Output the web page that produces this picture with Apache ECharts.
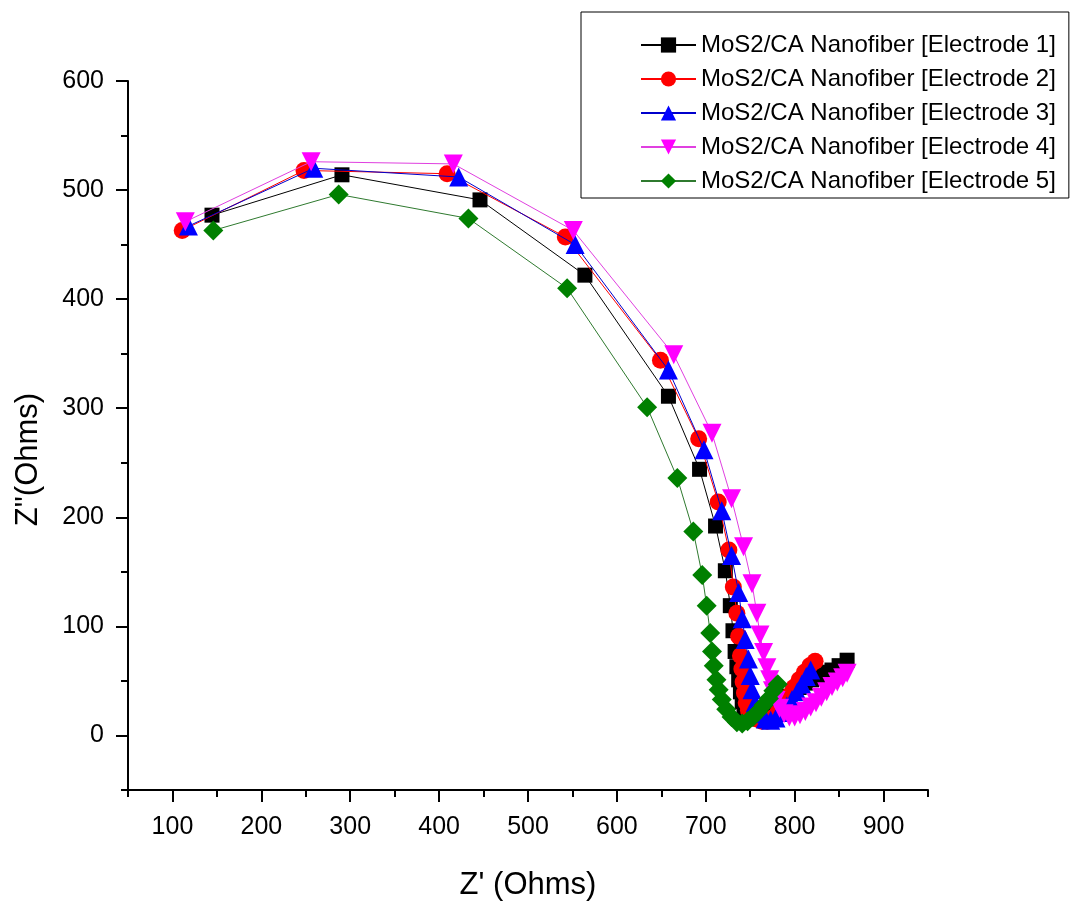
<!DOCTYPE html>
<html>
<head>
<meta charset="utf-8">
<script src="https://cdn.jsdelivr.net/npm/echarts@6/dist/echarts.min.js"></script>
<style>
html,body{margin:0;padding:0;background:#fff;}
#chart{width:1072px;height:906px;}
</style>
</head>
<body>
<div id="chart"></div>
<script>
const seriesNames = [
  'MoS2/CA Nanofiber [Electrode 1]',
  'MoS2/CA Nanofiber [Electrode 2]',
  'MoS2/CA Nanofiber [Electrode 3]',
  'MoS2/CA Nanofiber [Electrode 4]',
  'MoS2/CA Nanofiber [Electrode 5]'
];
const xMajorTicks = [100, 200, 300, 400, 500, 600, 700, 800, 900];
const xMinorTicks = [50, 150, 250, 350, 450, 550, 650, 750, 850, 950];
const yMajorTicks = [0, 100, 200, 300, 400, 500, 600];
const yMinorTicks = [-50, 50, 150, 250, 350, 450, 550];

const electrode1 = [[144.5,477],[290.7,514],[446,491],[564,422],[658,311],[693,244],[711,192],[722,151],[727.6,119],[730.6,96],[733,77],[735,63],[737,51],[739,40],[741,31],[743,24],[746,19],[750,17],[756,18],[763,21],[770,24],[777,28],[784,32],[791,36],[798,40],[805,44],[812,48],[819,51],[826,55],[834,58],[842,60],[850,64],[859,69]];
const electrode2 = [[111,463],[248,518],[409,515],[542,457],[649,344],[692,272],[714,214],[726,170],[731,136],[735,112],[737,91],[739,73],[740.6,61],[742,49],[743.5,39],[745.5,30],[748,23],[752,18],[757,15],[763,13],[769,13],[775,16],[781,21],[787,28],[793,36],[799,44],[805,51],[811,58],[817,64],[823,68]];
const electrode3 = [[118,467],[259,520],[422,512],[553,450],[658,335],[698,262],[718,206],[729,165],[737,131],[741,107],[744.4,88],[748,70],[750,55],[752,42],[755.5,30],[761,20],[767,15],[773,14],[779,16],[785,21],[791,27],[797,33],[803,40],[808,47],[813,54],[818,60]];
const electrode4 = [[114.5,471],[256,526],[416,524],[551,463],[664,349],[707,277],[729,217],[742.5,173],[752,139],[757.5,112],[761,92],[765,76],[768.7,62],[772,51],[775,41],[779,32],[783,25],[788,20],[794,17],[800,17],[806,19],[812,22],[818,26],[824,30],[830,35],[836,40],[842,45],[848,49],[854,53],[859,57]];
const electrode5 = [[146,463],[287,496],[433,474],[544,410],[634,301],[668,236],[686,187],[696,147],[701,119],[705,94],[707,77],[709,64],[712,51],[714.5,42],[718,33],[723,24],[729,17],[735,12],[741,11],[747,13],[753,17],[759,22],[765,28],[771,34],[776,41],[781,47]];

const lineColors = ['#000000', '#ff0000', '#0000cc', '#e040e0', '#2f7a2f'];
const markerColors = ['#000000', '#ff0000', '#0000ff', '#ff00ff', '#008000'];
const symbols = ['rect', 'circle', 'triangle', 'triangle', 'diamond'];
const symbolSizes = [15, 17, 19, 19, 20];
const symbolRotates = [0, 0, 0, 180, 0];
const allData = [electrode1, electrode2, electrode3, electrode4, electrode5];

const chart = echarts.init(document.getElementById('chart'), null, {renderer: 'canvas'});

const font = 'Liberation Sans, Arial, sans-serif';

const series = allData.map((d, i) => ({
  name: seriesNames[i],
  type: 'line',
  data: d,
  xAxisIndex: 0,
  yAxisIndex: 0,
  symbol: symbols[i],
  symbolSize: symbolSizes[i],
  symbolRotate: symbolRotates[i],
  showAllSymbol: true,
  lineStyle: {color: lineColors[i], width: 1},
  itemStyle: {color: markerColors[i], borderWidth: 0},
  emphasis: {disabled: true},
  animation: false,
  z: 2 + i
}));

const option = {
  animation: false,
  backgroundColor: '#ffffff',
  grid: {left: 128, right: 144, top: 81, bottom: 114, containLabel: false},
  legend: {
    orient: 'vertical',
    left: 581,
    top: 12,
    padding: [21, 13, 5, 59],
    borderColor: '#000',
    borderWidth: 1,
    itemWidth: 55,
    itemHeight: 19,
    itemGap: 10,
    textStyle: {fontFamily: font, fontSize: 24, color: '#000', lineHeight: 24},
    data: seriesNames
  },
  xAxis: [
    {
      type: 'value', min: 50, max: 950, position: 'bottom',
      name: "Z' (Ohms)", nameLocation: 'middle', nameGap: 80,
      nameTextStyle: {fontFamily: font, fontSize: 31, color: '#000'},
      axisLine: {show: true, onZero: false, lineStyle: {color: '#000', width: 2}},
      axisTick: {show: true, customValues: xMajorTicks, length: 12, lineStyle: {color: '#000', width: 2}},
      axisLabel: {show: true, customValues: xMajorTicks, margin: 25, fontFamily: font, fontSize: 25, color: '#000'},
      splitLine: {show: false}
    },
    {
      type: 'value', min: 50, max: 950, position: 'bottom',
      axisLine: {show: false, onZero: false},
      axisTick: {show: true, customValues: xMinorTicks, length: 7, lineStyle: {color: '#000', width: 2}},
      axisLabel: {show: false},
      splitLine: {show: false}
    }
  ],
  yAxis: [
    {
      type: 'value', min: -50, max: 600, position: 'left',
      name: 'Z"(Ohms)', nameLocation: 'middle', nameGap: 84,
      nameTextStyle: {fontFamily: font, fontSize: 31, color: '#000', padding: [0, 48, 0, 0]},
      axisLine: {show: true, onZero: false, lineStyle: {color: '#000', width: 2}},
      axisTick: {show: true, customValues: yMajorTicks, length: 12, lineStyle: {color: '#000', width: 2}},
      axisLabel: {show: true, customValues: yMajorTicks, margin: 24, fontFamily: font, fontSize: 25, color: '#000'},
      splitLine: {show: false}
    },
    {
      type: 'value', min: -50, max: 600, position: 'left',
      axisLine: {show: false, onZero: false},
      axisTick: {show: true, customValues: yMinorTicks, length: 7, lineStyle: {color: '#000', width: 2}},
      axisLabel: {show: false},
      splitLine: {show: false}
    }
  ],
  series: series
};
chart.setOption(option);
</script>
</body>
</html>
